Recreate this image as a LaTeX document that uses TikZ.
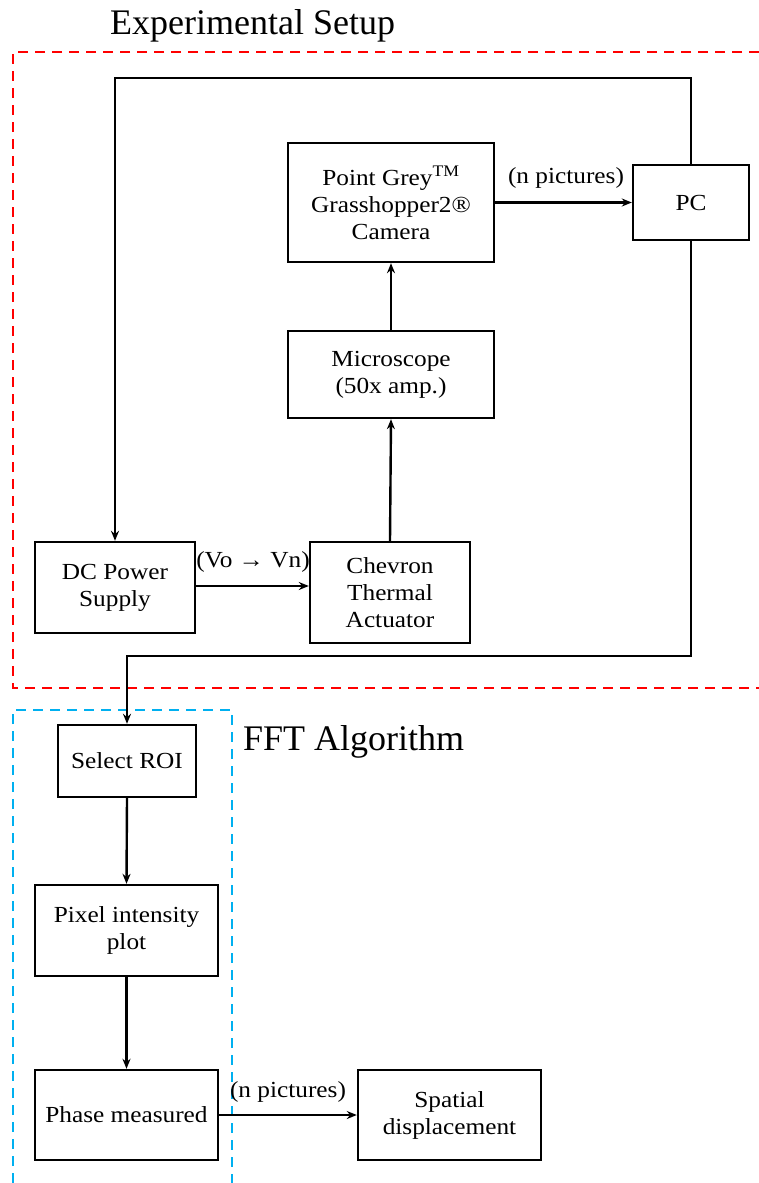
\documentclass[tikz,border=0pt]{standalone}
\usepackage{fontspec}
\setmainfont{Liberation Serif}
\newfontfamily\boxfont[FakeStretch=1.1]{Liberation Serif}
\usetikzlibrary{arrows.meta}
\definecolor{fftblue}{HTML}{00B0F0}
\tikzset{
  box/.style={draw=black, line width=2.4pt, align=center, inner sep=2pt,
    font=\boxfont\fontsize{23}{27}\selectfont},
  arr/.style={line width=2.4pt, -{Stealth[length=10pt,width=8pt]}},
  lbl/.style={font=\boxfont\fontsize{23}{27}\selectfont, inner sep=0pt},
  ttl/.style={font=\fontsize{36}{40}\selectfont, inner sep=0pt, anchor=base west},
  reddash/.style={draw=red, line width=2.5pt, dash pattern=on 10pt off 7pt},
  bluedash/.style={draw=fftblue, line width=2.5pt, dash pattern=on 10pt off 7pt}
}
\begin{document}
\begin{tikzpicture}[x=1pt,y=-1pt]
\useasboundingbox (0,0) rectangle (759,1183);
% dashed frames
\draw[reddash] (759,52) -- (13,52) -- (13,688) -- (759,688);
\draw[bluedash] (13,1183) -- (13,710) -- (232,710) -- (232,1183);
% titles
\node[ttl] (t1) at (110,34) {Experimental Setup};
\node[ttl] (t2) at (243,750) {FFT Algorithm};
% boxes
\node[box, minimum width=206pt, minimum height=119pt] (cam) at (391,202.5)
  {Point Grey\textsuperscript{TM}\\Grasshopper2®\\Camera};
\node[box, minimum width=116pt, minimum height=75pt] (pc) at (691,202.5) {PC};
\node[box, minimum width=206pt, minimum height=87pt] (mic) at (391,374.5)
  {Microscope\\(50x amp.)};
\node[box, minimum width=160pt, minimum height=101pt] (chev) at (390,592.5)
  {Chevron\\Thermal\\Actuator};
\node[box, minimum width=160pt, minimum height=91pt] (dc) at (115,587.5)
  {DC Power\\Supply};
\node[box, minimum width=138pt, minimum height=72pt] (roi) at (127,761) {Select ROI};
\node[box, minimum width=183pt, minimum height=91pt] (pix) at (126.5,930.5)
  {Pixel intensity\\plot};
\node[box, minimum width=183pt, minimum height=90pt] (ph) at (126.5,1115)
  {Phase measured};
\node[box, minimum width=183pt, minimum height=90pt] (sp) at (449.5,1115)
  {Spatial\\displacement};
% coordinates for loops
\coordinate (topr) at (691,78);
\coordinate (topl) at (115,78);
\coordinate (botr) at (691,656);
\coordinate (botl) at (127,656);
% connectors
\draw[arr] (pc.north) -- (topr) -- (topl) -- (dc.north);
\draw[arr] (pc.south) -- (botr) -- (botl) -- (roi.north);
\draw[arr] (cam.east) -- (pc.west);
\draw[arr] (mic.north) -- (cam.south);
\draw[arr] (chev.north) -- (mic.south);
\draw[arr] (dc.east |- 0,586) -- (chev.west |- 0,586);
\draw[arr] (roi.south) -- (pix.north);
\draw[arr] (pix.south) -- (ph.north);
\draw[arr] (ph.east) -- (sp.west);
% labels
\node[lbl] (l1) at (566,178) {(n pictures)};
\node[lbl] (l2) at (253,562) {(Vo → Vn)};
\node[lbl] (l3) at (288,1092) {(n pictures)};
\end{tikzpicture}
\end{document}
